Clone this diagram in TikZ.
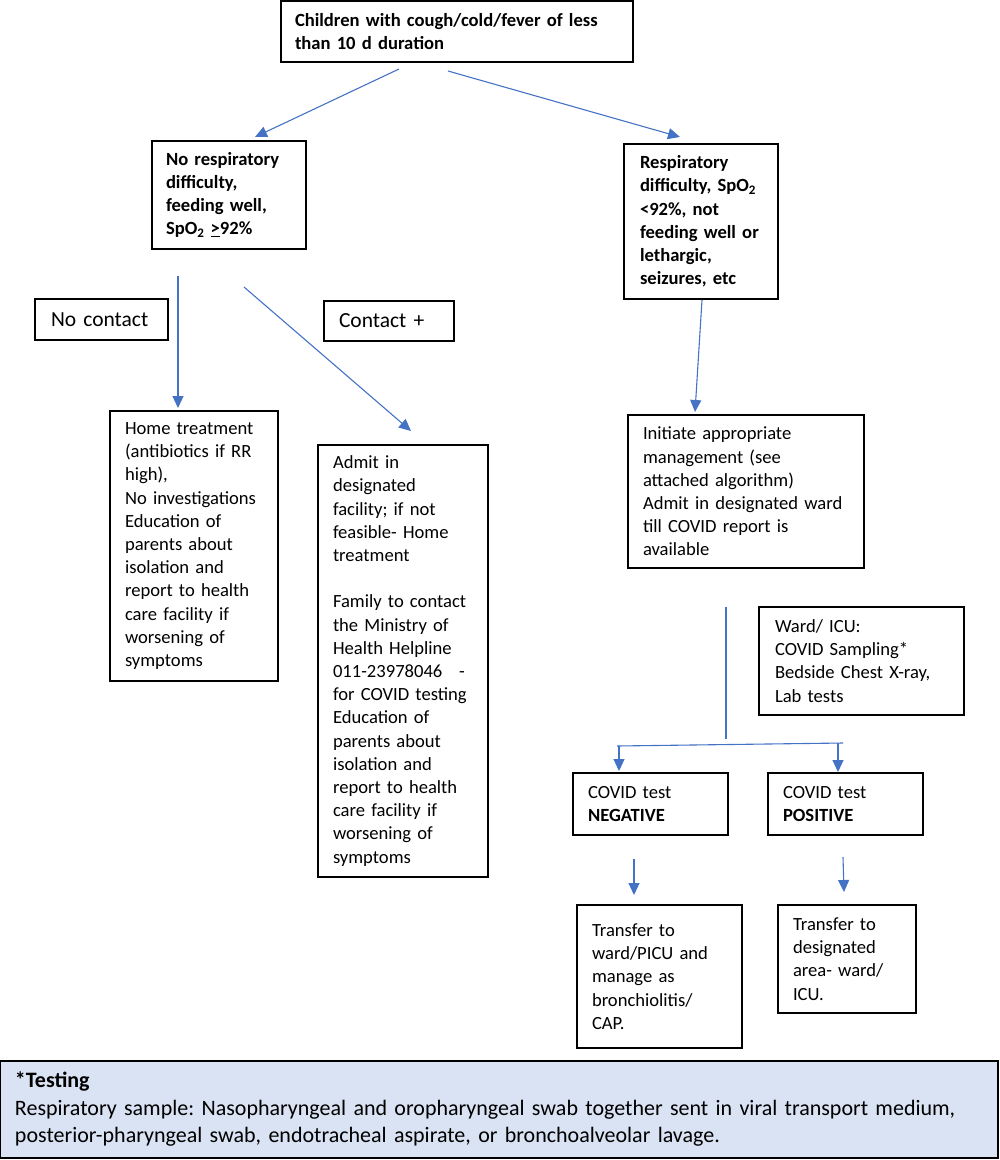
\documentclass[tikz,border=0pt]{standalone}
\usepackage{fontspec}
\setmainfont{Carlito}
\usetikzlibrary{arrows.meta}
\definecolor{arrowblue}{HTML}{4472C4}
\definecolor{notefill}{HTML}{DAE3F3}
\frenchspacing
\begin{document}
\begin{tikzpicture}[x=1pt,y=-1pt,
  box/.style={draw=black, line width=1.5pt, rectangle, inner xsep=15pt, inner ysep=0pt,
    align=left, font=\fontsize{18.6}{23.2}\selectfont},
  boldbox/.style={box, font=\fontsize{18.6}{23.2}\selectfont\bfseries},
  bigbox/.style={box, font=\fontsize{21.5}{26}\selectfont},
  arr/.style={draw=arrowblue, line width=1.1pt, -{Triangle[length=12pt,width=11pt]}},
  conn/.style={draw=arrowblue, line width=1.1pt}]
\useasboundingbox (0,0) rectangle (1000,1160);

% boxes
\node[boldbox, text width=324pt, minimum height=61pt, inner xsep=14pt] (top) at (457,31.5)
  {Children with cough/cold/fever of less\\than 10 d duration};
\node[boldbox, text width=126pt, minimum height=108pt, inner xsep=14pt] (nores) at (229,195)
  {No respiratory\\difficulty,\\feeding well,\\SpO\textsubscript{2} \underline{>}92\%};
\node[boldbox, text width=122pt, minimum height=155pt, inner xsep=16pt] (resp) at (701,221.5)
  {Respiratory\\difficulty, SpO\textsubscript{2}\\<92\%, not\\feeding well or\\lethargic,\\seizures, etc};
\node[bigbox, text width=101pt, minimum height=41pt, inner xsep=16pt] (nocontact) at (101.5,319.5) {No contact};
\node[bigbox, text width=100pt, minimum height=40pt, inner xsep=15pt] (contact) at (389,321) {Contact +};
\node[box, text width=138pt, minimum height=270pt] (home) at (194,546)
  {Home treatment\\(antibiotics if RR\\high),\\No investigations\\Education of\\parents about\\isolation and\\report to health\\care facility if\\worsening of\\symptoms};
\node[box, text width=140pt, minimum height=432pt] (admit) at (403,661)
  {Admit in\\designated\\facility; if not\\feasible- Home\\treatment\\[23.2pt]Family to contact\\the Ministry of\\Health Helpline\\\mbox{011-23978046\hspace{0.9em}-}\\for COVID testing\\Education of\\parents about\\isolation and\\report to health\\care facility if\\worsening of\\symptoms};
\node[box, text width=206pt, minimum height=153pt] (init) at (746,491.5)
  {Initiate appropriate\\management (see\\attached algorithm)\\Admit in designated ward\\till COVID report is\\available};
\node[box, text width=173pt, minimum height=108pt, inner xsep=16pt] (ward) at (861.5,661)
  {Ward/ ICU:\\COVID Sampling*\\Bedside Chest X-ray,\\Lab tests};
\node[box, text width=125pt, minimum height=62pt] (neg) at (650.5,804)
  {COVID test\\\textbf{NEGATIVE}};
\node[box, text width=125pt, minimum height=62pt] (pos) at (845.5,804)
  {COVID test\\\textbf{POSITIVE}};
\node[box, text width=135pt, minimum height=143pt] (tr1) at (659.5,976.5)
  {Transfer to\\ward/PICU and\\manage as\\bronchiolitis/\\CAP.};
\node[box, text width=108pt, minimum height=108pt] (tr2) at (847,959)
  {Transfer to\\designated\\area- ward/\\ICU.};
\node[box, fill=notefill, line width=1.2pt, text width=968pt, minimum height=97pt, font=\fontsize{22}{27.5}\selectfont] (note) at (499,1109.5)
  {\textbf{*Testing}\\Respiratory sample: Nasopharyngeal and oropharyngeal swab together sent in viral transport medium,\\posterior-pharyngeal swab, endotracheal aspirate, or bronchoalveolar lavage.};

% connector end points
\coordinate (a1s) at (399,69);  \coordinate (a1e) at (255,137);
\coordinate (a2s) at (448,71);  \coordinate (a2e) at (680,137);
\coordinate (a3s) at (178,276); \coordinate (a3e) at (178,408);
\coordinate (a4s) at (244,287); \coordinate (a4e) at (411,431);
\coordinate (a5s) at (702,300); \coordinate (a5e) at (695,412);
\coordinate (vls) at (726,607); \coordinate (vle) at (726,739);
\coordinate (hls) at (617,746); \coordinate (hle) at (843,743);
\coordinate (a6s) at (619,746); \coordinate (a6e) at (619,771);
\coordinate (a7s) at (838,743); \coordinate (a7e) at (838,772);
\coordinate (a8s) at (634,859); \coordinate (a8e) at (634,895);
\coordinate (a9s) at (843,857); \coordinate (a9e) at (844,892);

\draw[arr] (a1s) -- (a1e);
\draw[arr] (a2s) -- (a2e);
\draw[arr] (a3s) -- (a3e);
\draw[arr] (a4s) -- (a4e);
\draw[arr] (a5s) -- (a5e);
\draw[conn] (vls) -- (vle);
\draw[conn] (hls) -- (hle);
\draw[arr] (a6s) -- (a6e);
\draw[arr] (a7s) -- (a7e);
\draw[arr] (a8s) -- (a8e);
\draw[arr] (a9s) -- (a9e);
\end{tikzpicture}
\end{document}
